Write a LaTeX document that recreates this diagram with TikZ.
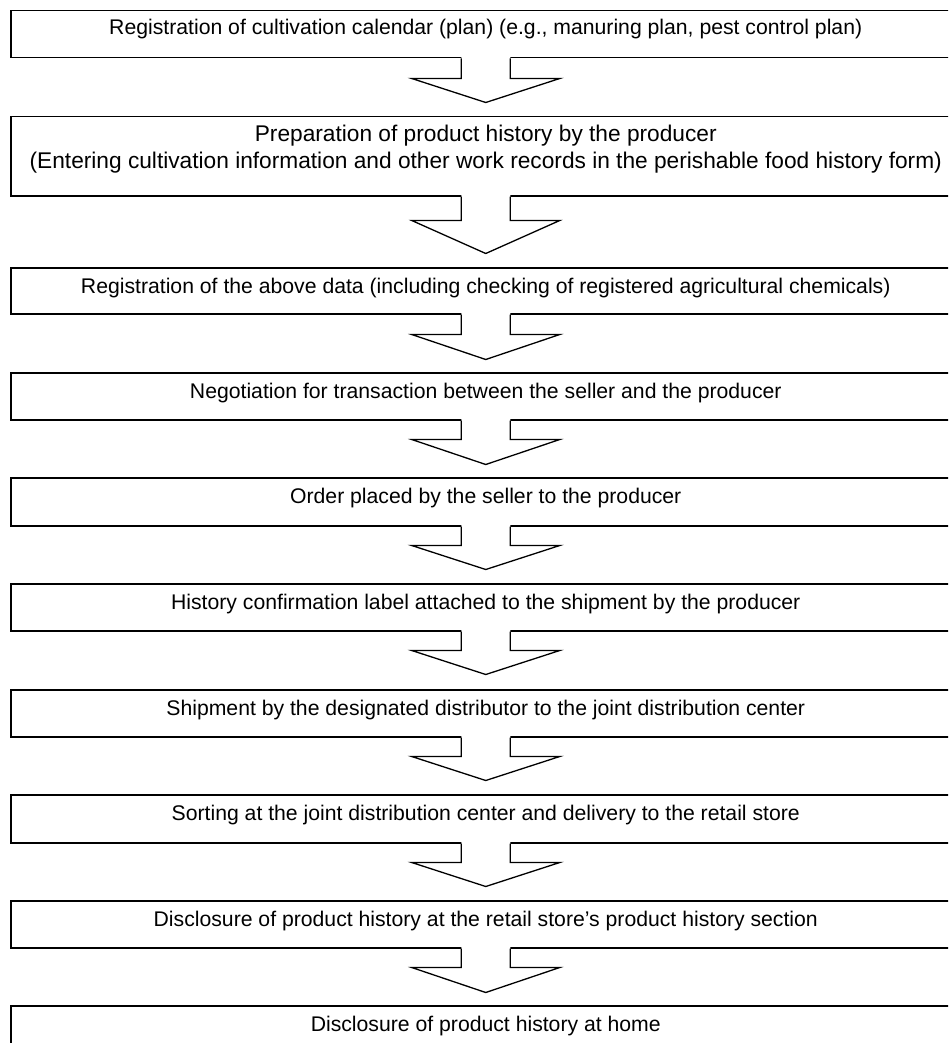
\documentclass[tikz,border=0pt]{standalone}
\usepackage{fontspec}
\setmainfont{Liberation Sans}
\usetikzlibrary{calc}

\tikzset{
  stepbox/.style={draw=black, line width=1.5pt, minimum width=950pt, inner sep=0pt, anchor=north west},
  lbl/.style={anchor=base, inner sep=0pt, font=\fontsize{21.2}{25}\selectfont},
  biglbl/.style={lbl, font=\fontsize{22.7}{27}\selectfont},
  arrowline/.style={draw=black, line width=1.3pt, line join=miter},
}

% hollow block arrow hanging from the bottom edge of a box
% #1 = source box, #2 = shaft length, #3 = head length
\newcommand\stagearrow[3]{%
  \path[fill=white] ($(#1.south)+(-24.5,-2)$) -- ($(#1.south)+(-24.5,#2)$) -- ($(#1.south)+(-74,#2)$)
    -- ($(#1.south)+(0,#2+#3)$) -- ($(#1.south)+(74,#2)$) -- ($(#1.south)+(24.5,#2)$)
    -- ($(#1.south)+(24.5,-2)$) -- cycle;
  \draw[arrowline] ($(#1.south)+(-24.5,0)$) -- ($(#1.south)+(-24.5,#2)$) -- ($(#1.south)+(-74,#2)$)
    -- ($(#1.south)+(0,#2+#3)$) -- ($(#1.south)+(74,#2)$) -- ($(#1.south)+(24.5,#2)$)
    -- ($(#1.south)+(24.5,0)$);
}

\begin{document}
\begin{tikzpicture}[x=1pt, y=-1pt]
  \useasboundingbox (0,0) rectangle (948,1043);
  \clip (0,0) rectangle (948,1043);

  % process boxes (left edge, top edge, height)
  \node[stepbox, minimum height=47pt] (b1) at (10,10) {};
  \node[stepbox, minimum height=79pt] (b2) at (10,116) {};
  \node[stepbox, minimum height=46pt] (b3) at (10,267) {};
  \node[stepbox, minimum height=47pt] (b4) at (10,372) {};
  \node[stepbox, minimum height=48pt] (b5) at (10,477) {};
  \node[stepbox, minimum height=47pt] (b6) at (10,583) {};
  \node[stepbox, minimum height=47pt] (b7) at (10,689) {};
  \node[stepbox, minimum height=48pt] (b8) at (10,794) {};
  \node[stepbox, minimum height=47pt] (b9) at (10,900) {};
  \node[stepbox, minimum height=60pt] (b10) at (10,1005) {};

  % box texts
  \node[lbl] (t1) at ([yshift=-25pt]b1.north) {Registration of cultivation calendar (plan) (e.g., manuring plan, pest control plan)};
  \node[biglbl] (t2a) at ([yshift=-26pt]b2.north) {Preparation of product history by the producer};
  \node[biglbl] (t2b) at ([yshift=-52pt]b2.north) {(Entering cultivation information and other work records in the perishable food history form)};
  \node[lbl] (t3) at ([yshift=-26pt]b3.north) {Registration of the above data (including checking of registered agricultural chemicals)};
  \node[lbl] (t4) at ([yshift=-26pt]b4.north) {Negotiation for transaction between the seller and the producer};
  \node[lbl] (t5) at ([yshift=-26pt]b5.north) {Order placed by the seller to the producer};
  \node[lbl] (t6) at ([yshift=-26pt]b6.north) {History confirmation label attached to the shipment by the producer};
  \node[lbl] (t7) at ([yshift=-26pt]b7.north) {Shipment by the designated distributor to the joint distribution center};
  \node[lbl] (t8) at ([yshift=-26pt]b8.north) {Sorting at the joint distribution center and delivery to the retail store};
  \node[lbl] (t9) at ([yshift=-26pt]b9.north) {Disclosure of product history at the retail store’s product history section};
  \node[lbl] (t10) at ([yshift=-26pt]b10.north) {Disclosure of product history at home};

  % block arrows between the steps
  \stagearrow{b1}{20}{24}
  \stagearrow{b2}{24}{33}
  \stagearrow{b3}{20}{25}
  \stagearrow{b4}{19}{25}
  \stagearrow{b5}{19}{24}
  \stagearrow{b6}{19}{24}
  \stagearrow{b7}{19}{24}
  \stagearrow{b8}{19}{24}
  \stagearrow{b9}{19}{25}
\end{tikzpicture}
\end{document}
